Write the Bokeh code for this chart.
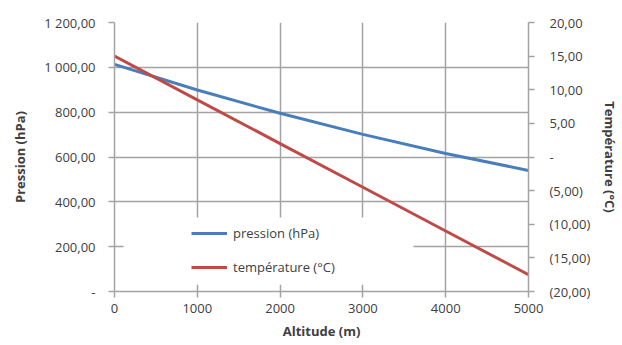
from bokeh.plotting import figure
from bokeh.models import (Range1d, LinearAxis, FixedTicker, Legend, LegendItem,
                          BoxAnnotation)
from bokeh.embed import file_html
from bokeh.resources import INLINE

# ---- data ----
altitude = [0, 1000, 2000, 3000, 4000, 5000]
pression = [1013.0, 899.0, 795.0, 701.0, 616.0, 540.0]
temperature = [15.0, 8.5, 2.0, -4.5, -11.0, -17.5]

x_ticks = [0, 1000, 2000, 3000, 4000, 5000]
left_ticks = [0, 200, 400, 600, 800, 1000, 1200]
left_labels = ["-", "200,00", "400,00", "600,00", "800,00", "1 000,00", "1 200,00"]
right_ticks = [-20, -15, -10, -5, 0, 5, 10, 15, 20]
right_labels = ["(20,00)", "(15,00)", "(10,00)", "(5,00)", "-", "5,00", "10,00", "15,00", "20,00"]

series_names = ["pression (hPa)", "température (°C)"]
right_title = "Température (°C)"

FONT = "Open Sans"
TXT = "#404040"
GRID = "#a3a3a3"
BLUE = "#4A7EBB"
RED = "#BE4B48"

p = figure(width=622, height=345, output_backend="svg", toolbar_location=None,
           x_range=Range1d(0, 5000), y_range=Range1d(0, 1200),
           min_border_left=114, min_border_right=91, min_border_top=22,
           min_border_bottom=54, y_axis_location=None)
p.outline_line_color = None
p.extra_y_ranges = {"temp": Range1d(-20, 20)}

# grids
p.xgrid.ticker = FixedTicker(ticks=x_ticks)
p.ygrid.ticker = FixedTicker(ticks=left_ticks)
for g in (p.xgrid, p.ygrid):
    g.grid_line_color = GRID
    g.grid_line_width = 1.5

# x axis
xa = p.xaxis[0]
xa.ticker = FixedTicker(ticks=x_ticks)
xa.axis_label = "Altitude (m)"

# left axis
ya = LinearAxis(ticker=FixedTicker(ticks=left_ticks),
                major_label_overrides=dict(zip(left_ticks, left_labels)),
                axis_label="Pression (hPa)")
p.add_layout(ya, "left")

# right axis
ra = LinearAxis(y_range_name="temp", ticker=FixedTicker(ticks=right_ticks),
                major_label_overrides=dict(zip(right_ticks, right_labels)),
                axis_label=right_title)
p.add_layout(ra, "right")

for ax in (xa, ya, ra):
    ax.axis_line_color = GRID
    ax.axis_line_width = 1.5
    ax.major_tick_line_color = GRID
    ax.major_tick_line_width = 1.5
    ax.major_tick_in = 0
    ax.major_tick_out = 6
    ax.minor_tick_line_color = None
    ax.major_label_text_font = FONT
    ax.major_label_text_font_size = "13px"
    ax.major_label_text_color = TXT
    ax.axis_label_text_font = FONT
    ax.axis_label_text_font_size = "13px"
    ax.axis_label_text_font_style = "bold"
    ax.axis_label_text_color = TXT

xa.major_label_standoff = 6
xa.axis_label_standoff = 6
ya.major_label_standoff = 13
ya.axis_label_standoff = 12
ra.major_label_standoff = 15
ra.axis_label_standoff = 8

# legend background box (hides gridlines)
p.add_layout(BoxAnnotation(left=110, right=3610, bottom=30, top=330,
                           fill_color="white", fill_alpha=1.0, line_color=None))

r1 = p.line(altitude, pression, line_color=BLUE, line_width=3)
r2 = p.line(altitude, temperature, line_color=RED, line_width=3, y_range_name="temp")

legend = Legend(items=[LegendItem(label=series_names[0], renderers=[r1]),
                       LegendItem(label=series_names[1], renderers=[r2])],
                location=(77, 14), padding=0, margin=0, spacing=14,
                glyph_width=36, glyph_height=20, label_height=20,
                label_standoff=6, label_text_font=FONT,
                label_text_font_size="13px", label_text_color=TXT,
                background_fill_alpha=0, border_line_color=None)
p.add_layout(legend)

open("out.html", "w").write(file_html(p, INLINE))
